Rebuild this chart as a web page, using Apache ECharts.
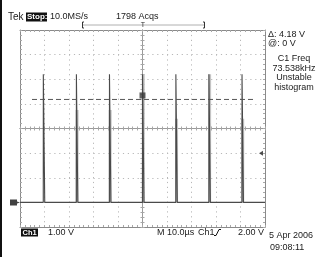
<!DOCTYPE html>
<html><head><meta charset="utf-8">
<script src="https://cdn.jsdelivr.net/npm/echarts@6/dist/echarts.min.js"></script>
<style>html,body{margin:0;padding:0;background:#fff}#c{width:316px;height:257px}</style>
</head><body><div id="c"></div>
<script>
// ---- data ----
const spikeTimes = [9.8, 23.3, 36.8, 50.3, 63.9, 77.4, 90.9];      // µs
const spikePeaks = [5.2, 5.2, 5.2, 5.2, 5.2, 5.2, 5.2];            // V
const spikeGhostTops = [0, 3.75, 3.75, 5.2, 3.4, 5.2, 3.4];        // V (persistence band)
const baselineV = 0;
const cursorV = 4.18;
const cursorSpan = [4.9, 95.1];
const triggerTime = 50;
const triggerLevel = 2.0;
const xRange = [0, 100];  // 10 div x 10 µs
const yRange = [-1, 7];   // 8 div x 1 V

const FONT = 'Liberation Sans, Arial, sans-serif';
const chart = echarts.init(document.getElementById('c'), null, {renderer: 'canvas'});

// trace
const trace = [[xRange[0], baselineV]];
spikeTimes.forEach((t, i) => {
  trace.push([t - 0.3, baselineV], [t - 0.28, spikePeaks[i]], [t + 0.28, spikePeaks[i]], [t + 0.3, baselineV]);
});
trace.push([xRange[1], baselineV]);

const ghostSeries = spikeTimes.map((t, i) => ({
  type: 'line', xAxisIndex: 0, yAxisIndex: 0, symbol: 'none', silent: true, z: 2,
  lineStyle: {color: '#c4c4c4', width: 3},
  data: spikeGhostTops[i] > 0 ? [[t, baselineV], [t, spikeGhostTops[i]]] : []
}));

const grid = {left: 20, top: 30, width: 245, height: 197};
const dotted = {show: true, lineStyle: {color: '#b8b8b8', width: 1, type: [1.2, 3.7]}};
const borderLine = {show: true, onZero: false, lineStyle: {color: '#8a8a8a', width: 1}};
const tickIn = {show: true, inside: true, length: 2, lineStyle: {color: '#a8a8a8'}};
const minorIn = {show: true, splitNumber: 5, length: 2, lineStyle: {color: '#a8a8a8'}};

function mainX(pos, split) {
  return {type: 'value', gridIndex: 0, position: pos, min: xRange[0], max: xRange[1], interval: 10,
    axisLine: borderLine, axisTick: tickIn, minorTick: minorIn, axisLabel: {show: false},
    splitLine: split ? dotted : {show: false}};
}
function mainY(pos, split) {
  return {type: 'value', gridIndex: 0, position: pos, min: yRange[0], max: yRange[1], interval: 1,
    axisLine: borderLine, axisTick: tickIn, minorTick: minorIn, axisLabel: {show: false},
    splitLine: split ? dotted : {show: false}};
}
const crossLine = {show: true, onZero: true, lineStyle: {color: '#9a9a9a', width: 1}};
const crossTick = {show: true, inside: false, length: 2, lineStyle: {color: '#a8a8a8'}};
function crossX(pos) {
  return {type: 'value', gridIndex: 1, position: pos, min: -5, max: 5, interval: 1,
    axisLine: crossLine, axisTick: crossTick, minorTick: minorIn, axisLabel: {show: false}, splitLine: {show: false}};
}
function crossY(pos) {
  return {type: 'value', gridIndex: 1, position: pos, min: -4, max: 4, interval: 1,
    axisLine: crossLine, axisTick: crossTick, minorTick: minorIn, axisLabel: {show: false}, splitLine: {show: false}};
}

function txt(x, y, s, opt) {
  return {type: 'text', x: x, y: y, style: Object.assign({text: s, fill: '#1a1a1a',
    font: '9px ' + FONT, textVerticalAlign: 'middle'}, opt || {})};
}

const graphic = [
  {type: 'rect', shape: {x: 0, y: 0, width: 2, height: 257}, style: {fill: '#111'}},
  // header
  txt(8, 17, 'Tek', {font: '10px ' + FONT}),
  {type: 'rect', shape: {x: 26, y: 12.5, width: 21, height: 9}, style: {fill: '#111'}},
  txt(27, 17, 'Stop:', {fill: '#fff', font: 'bold 8px ' + FONT}),
  txt(50, 17, '10.0MS/s'),
  txt(116, 17, '1798 Acqs'),
  {type: 'line', shape: {x1: 83, y1: 25, x2: 204, y2: 25}, style: {stroke: '#b0b0b0', lineWidth: 1}},
  {type: 'polyline', shape: {points: [[84, 22], [82.5, 22], [82.5, 28], [84, 28]]}, style: {stroke: '#333', fill: null, lineWidth: 1}},
  {type: 'polyline', shape: {points: [[203, 22], [204.5, 22], [204.5, 28], [203, 28]]}, style: {stroke: '#333', fill: null, lineWidth: 1}},
  txt(143, 25, 'T', {font: '7px ' + FONT, textAlign: 'center', fill: '#333'}),
  // bottom line
  {type: 'rect', shape: {x: 21, y: 228.5, width: 17, height: 8}, style: {fill: '#111'}},
  txt(22.5, 232.5, 'Ch1', {fill: '#fff', font: 'bold 7.5px ' + FONT}),
  txt(48, 232.5, '1.00 V'),
  txt(157, 232.5, 'M 10.0µs'),
  txt(198, 232.5, 'Ch1'),
  {type: 'polyline', shape: {points: [[214, 235.5], [216, 235.5], [219, 229.5], [221, 229.5]]}, style: {stroke: '#111', fill: null, lineWidth: 1}},
  txt(238, 232.5, '2.00 V'),
  txt(269, 236, '5 Apr 2006'),
  txt(270, 247.5, '09:08:11'),
  // right panel
  txt(268, 35, 'Δ: 4.18 V'),
  txt(268, 44, '@: 0 V'),
  txt(294, 59, 'C1 Freq', {textAlign: 'center'}),
  txt(294, 68.5, '73.538kHz', {textAlign: 'center'}),
  txt(294, 78, 'Unstable', {textAlign: 'center'}),
  txt(294, 87.5, 'histogram', {textAlign: 'center'})
];

chart.setOption({
  animation: false,
  backgroundColor: '#fff',
  grid: [Object.assign({}, grid), Object.assign({}, grid)],
  xAxis: [mainX('bottom', true), mainX('top', false), crossX('bottom'), crossX('top')],
  yAxis: [mainY('left', true), mainY('right', false), crossY('left'), crossY('right')],
  graphic: graphic,
  series: ghostSeries.concat([
    {type: 'line', xAxisIndex: 0, yAxisIndex: 0, symbol: 'none', silent: true, z: 3,
      lineStyle: {color: '#4a4a4a', width: 1.1}, data: trace},
    {type: 'line', xAxisIndex: 0, yAxisIndex: 0, symbol: 'none', silent: true, z: 3,
      lineStyle: {color: '#555', width: 1, type: [5, 3]}, data: [[cursorSpan[0], cursorV], [cursorSpan[1], cursorV]]},
    {type: 'scatter', xAxisIndex: 0, yAxisIndex: 0, silent: true, z: 5,
      symbol: 'rect', symbolSize: [6, 6], symbolOffset: [0, -4], itemStyle: {color: '#3a3a3a'},
      data: [[triggerTime, cursorV]]},
    {type: 'scatter', xAxisIndex: 0, yAxisIndex: 0, silent: true, z: 5,
      symbol: 'path://M0,0 L7,0 L7,2 L10,3 L7,4 L7,6 L0,6 Z', symbolSize: [10, 6], symbolOffset: [-5, 0],
      itemStyle: {color: '#111'},
      label: {show: true, position: 'inside', offset: [-6.5, 0], formatter: '1', color: '#fff', fontSize: 6, fontFamily: FONT},
      data: [[xRange[0], baselineV]]},
    {type: 'scatter', xAxisIndex: 0, yAxisIndex: 0, silent: true, z: 5,
      symbol: 'path://M4,0 L0,2.5 L4,5 Z', symbolSize: [4, 5], symbolOffset: [-4, 0],
      itemStyle: {color: '#222'}, data: [[xRange[1], triggerLevel]]}
  ])
});
</script></body></html>
